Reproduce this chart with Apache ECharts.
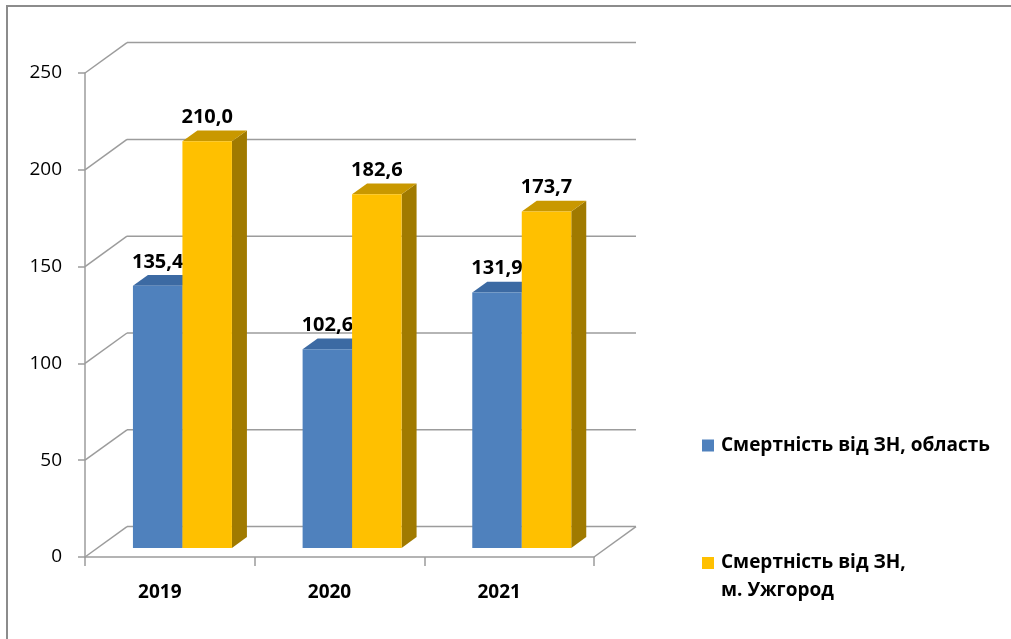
<!DOCTYPE html>
<html>
<head>
<meta charset="utf-8">
<script src="https://cdn.jsdelivr.net/npm/echarts@6/dist/echarts.min.js"></script>
<style>
html,body{margin:0;padding:0;background:#fff;}
#chart{width:1011px;height:639px;}
</style>
</head>
<body>
<div id="chart"></div>
<script>
// ---- data ----
const categories = ['2019', '2020', '2021'];
const seriesNames = ['Смертність від ЗН, область', 'Смертність від ЗН,\nм. Ужгород'];
const oblastValues = [135.4, 102.6, 131.9];
const uzhhorodValues = [210.0, 182.6, 173.7];
const yTickValues = [0, 50, 100, 150, 200, 250];

// ---- style / layout constants ----
const FONT = '"Open Sans", "Noto Sans", sans-serif';
const DX = 42, DY = -30.4;        // depth offset of back wall (px)
const D1 = 0.3, D2 = 0.657;       // bar front / back depth fractions
const BAR_FR = 0.2917;            // bar width as fraction of band
const GRID_COLOR = '#9c9c9c';

function fmt(v) { return v.toFixed(1).replace('.', ','); }

function wallRender(params, api) {
  const cs = params.coordSys;
  const v = api.value(0);
  const y = api.coord([0, v])[1];
  const x0 = cs.x, x1 = cs.x + cs.width;
  const style = { stroke: GRID_COLOR, lineWidth: 1.5 };
  const children = [
    { type: 'line', shape: { x1: x0 + DX, y1: y + DY, x2: x1 + DX, y2: y + DY }, style },
    { type: 'line', shape: { x1: x0, y1: y, x2: x0 + DX, y2: y + DY }, style }
  ];
  if (v === 0) {
    children.push({ type: 'line', shape: { x1: x1, y1: y, x2: x1 + DX, y2: y + DY }, style });
  }
  return { type: 'group', children };
}

function barRender(side, colors) {
  return function (params, api) {
    const cat = api.value(0), val = api.value(1);
    const base = api.coord([cat, 0]);
    const topP = api.coord([cat, val]);
    const band = api.size([1, 0])[0];
    const w = band * BAR_FR;
    const xL = base[0] + (side < 0 ? -w : 0);
    const xR = xL + w;
    const fx = DX * D1, fy = DY * D1, bx = DX * D2, by = DY * D2;
    const yT = topP[1], yB = base[1];
    return {
      type: 'group',
      children: [
        { type: 'polygon', shape: { points: [[xR + fx, yT + fy], [xR + bx, yT + by], [xR + bx, yB + by], [xR + fx, yB + fy]] }, style: { fill: colors.side } },
        { type: 'polygon', shape: { points: [[xL + fx, yT + fy], [xR + fx, yT + fy], [xR + bx, yT + by], [xL + bx, yT + by]] }, style: { fill: colors.top } },
        { type: 'polygon', shape: { points: [[xL + fx, yT + fy], [xR + fx, yT + fy], [xR + fx, yB + fy], [xL + fx, yB + fy]] }, style: { fill: colors.front } },
        { type: 'text', style: { x: (xL + xR) / 2 + fx, y: yT + by - 13, text: fmt(val), align: 'center', verticalAlign: 'middle', font: 'bold 20px ' + FONT, fill: '#000' } }
      ]
    };
  };
}

const chart = echarts.init(document.getElementById('chart'), null, { renderer: 'canvas' });
chart.setOption({
  animation: false,
  backgroundColor: '#fff',
  graphic: [{
    type: 'rect', shape: { x: 7, y: 6, width: 1100, height: 700 },
    style: { fill: 'none', stroke: '#8c8c8c', lineWidth: 2 }, z: 100
  }],
  grid: { left: 85, top: 73, width: 509, height: 484, containLabel: false },
  xAxis: {
    type: 'category',
    data: categories,
    boundaryGap: true,
    axisLine: { lineStyle: { color: GRID_COLOR, width: 1.5 } },
    axisTick: { show: true, length: 9, lineStyle: { color: GRID_COLOR, width: 1.5 } },
    axisLabel: { margin: 26, color: '#000', fontFamily: FONT, fontSize: 19, fontWeight: 'bold', padding: [0, 20, 0, 0] },
    splitLine: { show: false }
  },
  yAxis: {
    type: 'value',
    min: 0, max: 250, interval: 50,
    axisLine: { show: true, lineStyle: { color: GRID_COLOR, width: 1.5 } },
    axisTick: { show: true, length: 7, lineStyle: { color: GRID_COLOR, width: 1.5 } },
    axisLabel: { margin: 23, color: '#000', fontFamily: FONT, fontSize: 19, padding: [5, 0, 0, 0] },
    splitLine: { show: false }
  },
  legend: [
    {
      data: [seriesNames[0]], orient: 'vertical', left: 702, top: 436, padding: 0,
      itemWidth: 12, itemHeight: 12, icon: 'rect',
      textStyle: { color: '#000', fontFamily: FONT, fontSize: 19, fontWeight: 'bold', padding: [0, 0, 0, 2] }
    },
    {
      data: [seriesNames[1]], orient: 'vertical', left: 702, top: 549, padding: 0,
      itemWidth: 12, itemHeight: 40, icon: 'path://M0,0h12v12h-12ZM0,40L12,40',
      textStyle: { color: '#000', fontFamily: FONT, fontSize: 19, fontWeight: 'bold', lineHeight: 28, padding: [0, 0, 0, 2] }
    }
  ],
  series: [
    {
      type: 'custom', name: 'walls', z: 1, clip: false, silent: true,
      data: yTickValues.map(v => [v]),
      renderItem: wallRender
    },
    {
      type: 'custom', name: seriesNames[0], z: 2, clip: false,
      itemStyle: { color: '#4F81BD' },
      data: oblastValues.map((v, i) => [i, v]),
      renderItem: barRender(-1, { front: '#4F81BD', top: '#3C6AA3', side: '#3A6394' })
    },
    {
      type: 'custom', name: seriesNames[1], z: 3, clip: false,
      itemStyle: { color: '#FFC000' },
      data: uzhhorodValues.map((v, i) => [i, v]),
      renderItem: barRender(1, { front: '#FFC000', top: '#C99800', side: '#A07A00' })
    }
  ]
});
</script>
</body>
</html>
